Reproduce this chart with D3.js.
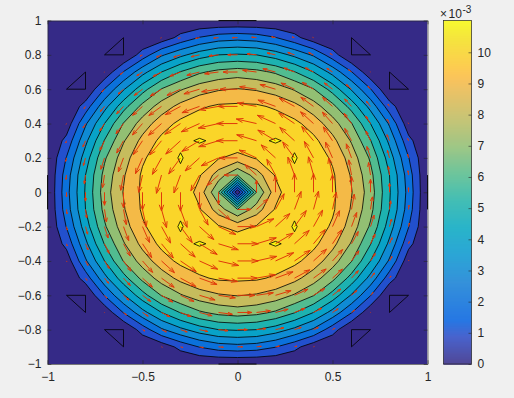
<!DOCTYPE html>
<html><head><meta charset="utf-8">
<style>html,body{margin:0;padding:0;background:#f0f0f0}svg{display:block}text{font-family:"Liberation Sans",Arial,sans-serif;fill:#262626}</style>
<script src="https://cdnjs.cloudflare.com/ajax/libs/d3/7.8.5/d3.min.js"></script>
</head><body><script>
// Field values (units of 1e-3) at grid nodes |y| = 0,0.1..1 (rows), |x| = 0,0.1..1 (cols); mirrored into the four quadrants.
const zQuadrant = [
 [0,   7.0, 9.6, 10.87,10.8, 10.2, 9.05,7.5, 5.1, 2.65,0],
 [7.0, 8.5, 10.1,10.87,10.85,10.15,8.9, 7.3, 5.0, 2.5, 0],
 [9.6, 10.1,10.6,11.065,10.6,9.85, 8.55,6.85,4.5, 2.05,0],
 [10.87,10.87,11.065,10.85,10.25,9.3,7.9,6.05,3.75,1.3,0],
 [10.8,10.85,10.6,10.25,9.55,8.45,7.05,5.0, 2.85,0.4, 0],
 [10.2,10.15,9.85,9.3, 8.45,7.3, 5.6, 3.65,1.45,0,   0],
 [9.05,8.9, 8.55,7.9, 7.05,5.6, 3.9, 2.05,0,   0,   0],
 [7.5, 7.3, 6.85,6.05,5.0, 3.65,2.05,0.25,0,   0,   0],
 [5.1, 5.0, 4.5, 3.75,2.85,1.45,0,   0,   0,   0,   0],
 [2.65,2.5, 2.05,1.3, 0.4, 0,   0,   0,   0,   0,   0],
 [0,   0,   0,   0,   0,   0,   0,   0,   0,   0,   0]
];
const levels = [0,1,2,3,4,5,6,7,8,9,10,11];
const gridNodes = [-1,-.9,-.8,-.7,-.6,-.5,-.4,-.3,-.2,-.1,0,.1,.2,.3,.4,.5,.6,.7,.8,.9,1];
const xTicks = [-1,-0.5,0,0.5,1];
const yTicks = [-1,-0.8,-0.6,-0.4,-0.2,0,0.2,0.4,0.6,0.8,1];
const cbTicks = [0,1,2,3,4,5,6,7,8,9,10];
const cbMax = 11.02;
const arrowPerUnit = 0.0101;
// Zero-level contours visible outside the disc.
const zeroTriangles = [
 [[-.7,.8],[-.6,.8],[-.6,.9]],[[-.9,.6],[-.8,.6],[-.8,.7]],
 [[.6,.8],[.6,.9],[.7,.8]],[[.8,.6],[.8,.7],[.9,.6]],
 [[.8,-.6],[.9,-.6],[.8,-.7]],[[.6,-.8],[.7,-.8],[.6,-.9]],
 [[-.9,-.6],[-.8,-.6],[-.8,-.7]],[[-.7,-.8],[-.6,-.8],[-.6,-.9]]
];
const zeroSegments = [[[-.1,1],[.1,1]],[[-1,-.1],[-1,.1]],[[1,-.1],[1,.1]],[[-.1,-1],[.1,-1]]];
// Parula colormap stops: [fraction, r, g, b]
const parulaStops = [
 [0,.2081,.1663,.5292],[.079,.1707,.2919,.7792],[.127,.0117,.3875,.8820],[.238,.0779,.5040,.8384],
 [.317,.0343,.5966,.8199],[.397,.0267,.6642,.7607],[.476,.1453,.7098,.6646],[.556,.3482,.7424,.5473],
 [.635,.5709,.7485,.4494],[.714,.7525,.7384,.3768],[.794,.9139,.7258,.3063],[.825,.9739,.7314,.2666],
 [.841,.9938,.7455,.2403],[.873,.9955,.7861,.1967],[.952,.9589,.8949,.1132],[1,.9763,.9831,.0538]
];

const W=514,H=398, L=47.5,R=427.5,T=20.5,B=364;
const svg=d3.select("body").append("svg").attr("width",W).attr("height",H);
const x=d3.scaleLinear().domain([-1,1]).range([L,R]);
const y=d3.scaleLinear().domain([-1,1]).range([B,T]);
const parula=d3.scaleLinear().domain(parulaStops.map(s=>s[0]))
  .range(parulaStops.map(s=>d3.rgb(s[1]*255,s[2]*255,s[3]*255))).interpolate(d3.interpolateRgb);
const color=v=>parula(Math.min(1,v/cbMax));

const n=gridNodes.length;
const field=[];
gridNodes.forEach((gy,j)=>gridNodes.forEach((gx,i)=>field.push(zQuadrant[Math.abs(j-10)][Math.abs(i-10)])));

svg.append("defs").append("clipPath").attr("id","plot").append("rect").attr("x",L).attr("y",T).attr("width",R-L).attr("height",B-T);
const plot=svg.append("g").attr("clip-path","url(#plot)");
plot.append("rect").attr("x",L).attr("y",T).attr("width",R-L).attr("height",B-T).attr("fill",color(0));

const contours=d3.contours().size([n,n]).thresholds(levels.slice(1))(field);
const gridPos=d3.scaleLinear().domain([.5,n-.5]).range([-1,1]);
const geo=d3.geoTransform({point(px,py){this.stream.point(x(gridPos(px)),y(-gridPos(py)));}});
const path=d3.geoPath(geo);
plot.selectAll("path.band").data(contours).join("path").attr("class","band")
  .attr("d",path).attr("fill",d=>color(d.value)).attr("stroke","#000").attr("stroke-width",.8);

const line=d3.line().x(d=>x(d[0])).y(d=>y(d[1]));
plot.selectAll("path.tri").data(zeroTriangles).join("path").attr("class","tri")
  .attr("d",d=>line(d)+"Z").attr("fill","none").attr("stroke","#000").attr("stroke-width",.8);

// Quiver: one arrow per grid node, tangential, length from the node's value.
const arrows=[];
gridNodes.forEach((gy,j)=>gridNodes.forEach((gx,i)=>{
  const z=field[j*n+i], r=Math.hypot(gx,gy);
  if(z>0&&r>0){const len=z*arrowPerUnit; arrows.push({gx,gy:-gy,u:gy/r*len,v:gx/r*len});}
}));
const arrowPath=a=>{
  const tx=a.gx+a.u,ty=a.gy+a.v, al=.33,be=.33;
  const h1=[tx-al*(a.u+be*(a.v)),ty-al*(a.v-be*(a.u))];
  const h2=[tx-al*(a.u-be*(a.v)),ty-al*(a.v+be*(a.u))];
  return line([[a.gx,a.gy],[tx,ty]])+line([h1,[tx,ty],h2]);
};
plot.selectAll("path.arrow").data(arrows).join("path").attr("class","arrow")
  .attr("d",arrowPath).attr("fill","none").attr("stroke","#e03a0a").attr("stroke-width",1);

// Axes
const style=g=>{g.selectAll("path,line").attr("stroke","#262626").attr("stroke-width",.6);g.selectAll("text").attr("font-size",12).attr("fill","#262626");};
svg.append("g").attr("transform",`translate(0,${B})`).call(d3.axisBottom(x).tickValues(xTicks).tickSizeInner(-3.8).tickSizeOuter(0).tickPadding(8).tickFormat(d3.format("~g"))).call(style);
svg.append("g").attr("transform",`translate(0,${T})`).call(d3.axisTop(x).tickValues(xTicks).tickSizeInner(-3.8).tickSizeOuter(0).tickFormat("")).call(style);
svg.append("g").attr("transform",`translate(${L},0)`).call(d3.axisLeft(y).tickValues(yTicks).tickSizeInner(-3.8).tickSizeOuter(0).tickPadding(6).tickFormat(d3.format("~g"))).call(style);
svg.append("g").attr("transform",`translate(${R},0)`).call(d3.axisRight(y).tickValues(yTicks).tickSizeInner(-3.8).tickSizeOuter(0).tickFormat("")).call(style);
svg.selectAll("path.seg").data(zeroSegments).join("path").attr("class","seg").attr("d",line).attr("stroke","#000").attr("stroke-width",.9).attr("fill","none");

// Colorbar
const cbL=443.5,cbR=471.5;
const cb=d3.scaleLinear().domain([0,cbMax]).range([B,T]);
svg.append("g").selectAll("rect").data(d3.range(B-T)).join("rect")
  .attr("x",cbL).attr("width",cbR-cbL).attr("y",d=>T+d).attr("height",1.2)
  .attr("fill",d=>parula(1-(d+.5)/(B-T)));
svg.append("rect").attr("x",cbL).attr("y",T).attr("width",cbR-cbL).attr("height",B-T).attr("fill","none").attr("stroke","#262626").attr("stroke-width",.7);
svg.append("g").attr("transform",`translate(${cbR},0)`).call(d3.axisRight(cb).tickValues(cbTicks).tickSizeInner(-3).tickSizeOuter(0).tickPadding(6).tickFormat(d3.format("d"))).call(style).select(".domain").remove();
const ex=svg.append("text").attr("x",440).attr("y",18).attr("font-size",12);
ex.append("tspan").text("×");
ex.append("tspan").attr("dx",1.5).text("10");
ex.append("tspan").attr("dy",-5).attr("dx",.5).attr("font-size",10).text("-3");
</script></body></html>
